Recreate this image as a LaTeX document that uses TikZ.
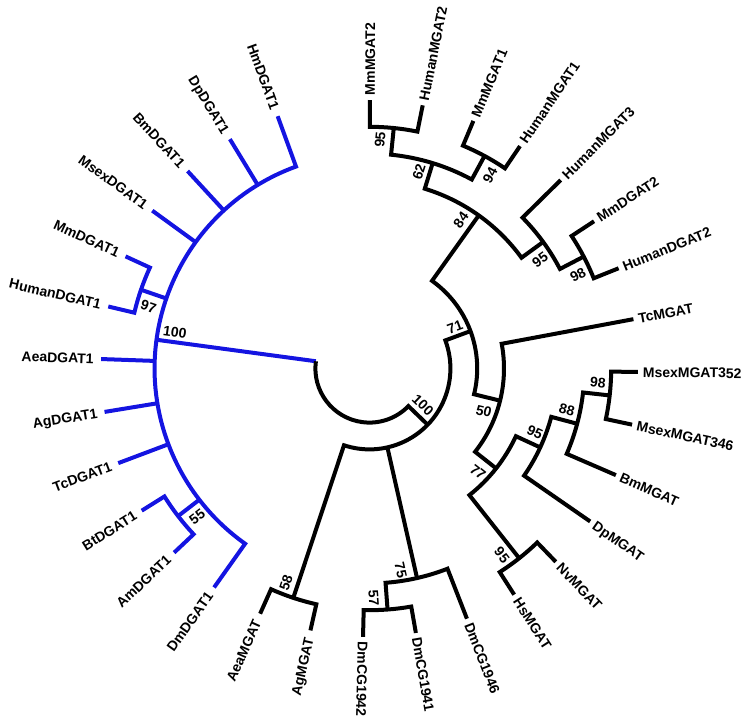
\documentclass[tikz,border=0pt]{standalone}
\usepackage{fontspec}
\setsansfont{Liberation Sans}
\usepackage{tikz}

\definecolor{dgatblue}{RGB}{20,20,225}

\begin{document}
\begin{tikzpicture}
    [
        x=1pt, y=1pt,
        branch/.style={line width=4pt},
        mgat/.style={branch, draw=black},
        dgat/.style={branch, draw=dgatblue},
        taxon/.style={font=\sffamily\bfseries\fontsize{14}{16}\selectfont, text height=10pt, text depth=0pt, outer sep=0pt},
        taxonR/.style={taxon, anchor=west, inner sep=5pt},
        taxonL/.style={taxon, anchor=east, inner sep=7.5pt},
        boot/.style={font=\sffamily\bfseries\fontsize{14}{16}\selectfont, text height=10pt, text depth=0pt, inner sep=0pt}
    ]
        \useasboundingbox (-369.5pt,-356.5pt) rectangle (380.5pt,368.5pt);
        % =========================================================================
        % NODES
        % =========================================================================
        % --- Taxa, right half ---
        \node [taxonR, rotate=89.9]   (MmMGAT2)     at (89.9:268.5pt)   {MmMGAT2};
        \node [taxonR, rotate=78.57]  (HumanMGAT2)  at (78.57:268.5pt)  {HumanMGAT2};
        \node [taxonR, rotate=67.24]  (MmMGAT1)     at (67.24:268.5pt)  {MmMGAT1};
        \node [taxonR, rotate=55.91]  (HumanMGAT1)  at (55.91:268.5pt)  {HumanMGAT1};
        \node [taxonR, rotate=44.58]  (HumanMGAT3)  at (44.58:268.5pt)  {HumanMGAT3};
        \node [taxonR, rotate=33.25]  (MmDGAT2)     at (33.25:268.5pt)  {MmDGAT2};
        \node [taxonR, rotate=21.92]  (HumanDGAT2)  at (21.92:268.5pt)  {HumanDGAT2};
        \node [taxonR, rotate=10.59]  (TcMGAT)      at (10.59:268.5pt)  {TcMGAT};
        \node [taxonR, rotate=-0.74]  (MsexMGAT352) at (-0.74:268.5pt)  {MsexMGAT352};
        \node [taxonR, rotate=-12.07] (MsexMGAT346) at (-12.07:268.5pt) {MsexMGAT346};
        \node [taxonR, rotate=-23.4]  (BmMGAT)      at (-23.4:268.5pt)  {BmMGAT};
        \node [taxonR, rotate=-34.73] (DpMGAT)      at (-34.73:268.5pt) {DpMGAT};
        \node [taxonR, rotate=-46.06] (NvMGAT)      at (-46.06:268.5pt) {NvMGAT};
        \node [taxonR, rotate=-57.39] (HsMGAT)      at (-57.39:268.5pt) {HsMGAT};
        \node [taxonR, rotate=-68.72] (DmCG1946)    at (-68.72:268.5pt) {DmCG1946};
        \node [taxonR, rotate=-80.05] (DmCG1941)    at (-80.05:268.5pt) {DmCG1941};
        \node [taxonR, rotate=-91.38] (DmCG1942)    at (-91.38:268.5pt) {DmCG1942};
        % --- Taxa, left half ---
        \node [taxonL, rotate=77.29]  (AgMGAT)      at (257.29:268.5pt) {AgMGAT};
        \node [taxonL, rotate=65.96]  (AeaMGAT)     at (245.96:268.5pt) {AeaMGAT};
        \node [taxonL, rotate=54.63]  (DmDGAT1)     at (234.63:268.5pt) {DmDGAT1};
        \node [taxonL, rotate=43.3]   (AmDGAT1)     at (223.3:268.5pt)  {AmDGAT1};
        \node [taxonL, rotate=31.97]  (BtDGAT1)     at (211.97:268.5pt) {BtDGAT1};
        \node [taxonL, rotate=20.64]  (TcDGAT1)     at (200.64:268.5pt) {TcDGAT1};
        \node [taxonL, rotate=9.31]   (AgDGAT1)     at (189.31:268.5pt) {AgDGAT1};
        \node [taxonL, rotate=-2.02]  (AeaDGAT1)    at (177.98:268.5pt) {AeaDGAT1};
        \node [taxonL, rotate=-13.35] (HumanDGAT1)  at (166.65:268.5pt) {HumanDGAT1};
        \node [taxonL, rotate=-24.68] (MmDGAT1)     at (155.32:268.5pt) {MmDGAT1};
        \node [taxonL, rotate=-36.01] (MsexDGAT1)   at (143.99:268.5pt) {MsexDGAT1};
        \node [taxonL, rotate=-47.34] (BmDGAT1)     at (132.66:268.5pt) {BmDGAT1};
        \node [taxonL, rotate=-58.67] (DpDGAT1)     at (121.33:268.5pt) {DpDGAT1};
        \node [taxonL, rotate=-70]    (HmDGAT1)     at (110:268.5pt)    {HmDGAT1};
        % --- Internal nodes ---
        \coordinate (m95a) at (84.235:241.7pt);
        \coordinate (m94)  at (61.575:241.7pt);
        \coordinate (m62)  at (72.905:214.9pt);
        \coordinate (m98)  at (27.585:241.7pt);
        \coordinate (m95b) at (36.08:214.9pt);
        \coordinate (m84)  at (54.49:188.1pt);
        \coordinate (m98m) at (-6.405:241.7pt);
        \coordinate (m88)  at (-14.9:214.9pt);
        \coordinate (m95u) at (-24.815:188.1pt);
        \coordinate (m95l) at (-51.725:241.7pt);
        \coordinate (m77)  at (-38.27:161.3pt);
        \coordinate (m50)  at (-13.84:134.5pt);
        \coordinate (m71)  at (20.325:107.7pt);
        \coordinate (m57)  at (-85.715:241.7pt);
        \coordinate (m75)  at (-77.22:214.9pt);
        \coordinate (m58)  at (251.625:241.7pt);
        \coordinate (m100) at (-44.025:80.9pt);
        \coordinate (b97)  at (160.985:241.7pt);
        \coordinate (b55)  at (217.635:241.7pt);
        \coordinate (b100) at (172.315:214.9pt);
        % --- Bootstrap values ---
        \node [boot, rotate=84.2]  (s-m95a) at (87.4:229.2pt)  {95};
        \node [boot, rotate=61.6]  (s-m94)  at (58.1:228pt)    {94};
        \node [boot, rotate=72.9]  (s-m62)  at (75.9:202.6pt)  {62};
        \node [boot, rotate=27.6]  (s-m98)  at (24.2:228.5pt)  {98};
        \node [boot, rotate=36.1]  (s-m95b) at (32.5:202.1pt)  {95};
        \node [boot, rotate=54.5]  (s-m84)  at (58.4:174.4pt)  {84};
        \node [boot, rotate=-6.4]  (s-m98m) at (-3.4:228.9pt)  {98};
        \node [boot, rotate=-14.9] (s-m88)  at (-11.9:201.8pt) {88};
        \node [boot, rotate=-24.8] (s-m95u) at (-21:177.3pt)   {95};
        \node [boot, rotate=-51.7] (s-m95l) at (-54.6:228.8pt) {95};
        \node [boot, rotate=-38.3] (s-m77)  at (-43.65:150pt)  {77};
        \node [boot, rotate=-13.8] (s-m50)  at (-20.4:122pt)   {50};
        \node [boot, rotate=20.3]  (s-m71)  at (25.9:95pt)     {71};
        \node [boot, rotate=-85.7] (s-m57)  at (-88.9:229.5pt) {57};
        \node [boot, rotate=-77.2] (s-m75)  at (-81.1:204pt)   {75};
        \node [boot, rotate=71.6]  (s-m58)  at (248.7:230.2pt) {58};
        \node [boot, rotate=-44]   (s-m100) at (-34.3:64.8pt)  {100};
        \node [boot, rotate=-19]   (s-b97)  at (164.3:229.5pt) {97};
        \node [boot, rotate=37.6]  (s-b55)  at (220.7:227.6pt) {55};
        \node [boot, rotate=-7.7]  (s-b100) at (169.4:197.9pt) {100};

        % =========================================================================
        % PATHS
        % =========================================================================
        % --- DGAT1 clade (blue) ---
        \draw [dgat] (MmDGAT1.east) -- (155.32:241.7pt) arc[start angle=155.32, end angle=166.65, radius=241.7pt] -- (HumanDGAT1.east);
        \draw [dgat] (AmDGAT1.east) -- (223.3:241.7pt) arc[start angle=223.3, end angle=211.97, radius=241.7pt] -- (BtDGAT1.east);
        \draw [dgat] (HmDGAT1.east) -- (110:214.9pt) arc[start angle=110, end angle=234.63, radius=214.9pt] -- (DmDGAT1.east);
        \draw [dgat] (121.33:214.9pt) -- (DpDGAT1.east);
        \draw [dgat] (132.66:214.9pt) -- (BmDGAT1.east);
        \draw [dgat] (143.99:214.9pt) -- (MsexDGAT1.east);
        \draw [dgat] (160.985:214.9pt) -- (b97);
        \draw [dgat] (177.98:214.9pt) -- (AeaDGAT1.east);
        \draw [dgat] (189.31:214.9pt) -- (AgDGAT1.east);
        \draw [dgat] (200.64:214.9pt) -- (TcDGAT1.east);
        \draw [dgat] (217.635:214.9pt) -- (b55);
        \draw [dgat] (b100) -- (172.315:54.1pt);
        % --- MGAT / DGAT2 clade ---
        \draw [mgat] (MmMGAT2.west) -- (89.9:241.7pt) arc[start angle=89.9, end angle=78.57, radius=241.7pt] -- (HumanMGAT2.west);
        \draw [mgat] (MmMGAT1.west) -- (67.24:241.7pt) arc[start angle=67.24, end angle=55.91, radius=241.7pt] -- (HumanMGAT1.west);
        \draw [mgat] (m95a) -- (84.235:214.9pt) arc[start angle=84.235, end angle=61.575, radius=214.9pt] -- (m94);
        \draw [mgat] (MmDGAT2.west) -- (33.25:241.7pt) arc[start angle=33.25, end angle=21.92, radius=241.7pt] -- (HumanDGAT2.west);
        \draw [mgat] (HumanMGAT3.west) -- (44.58:214.9pt) arc[start angle=44.58, end angle=27.585, radius=214.9pt] -- (m98);
        \draw [mgat] (m62) -- (72.905:188.1pt) arc[start angle=72.905, end angle=36.08, radius=188.1pt] -- (m95b);
        \draw [mgat] (MsexMGAT352.west) -- (-0.74:241.7pt) arc[start angle=-0.74, end angle=-12.07, radius=241.7pt] -- (MsexMGAT346.west);
        \draw [mgat] (m98m) -- (-6.405:214.9pt) arc[start angle=-6.405, end angle=-23.4, radius=214.9pt] -- (BmMGAT.west);
        \draw [mgat] (m88) -- (-14.9:188.1pt) arc[start angle=-14.9, end angle=-34.73, radius=188.1pt] -- (DpMGAT.west);
        \draw [mgat] (NvMGAT.west) -- (-46.06:241.7pt) arc[start angle=-46.06, end angle=-57.39, radius=241.7pt] -- (HsMGAT.west);
        \draw [mgat] (m95u) -- (-24.815:161.3pt) arc[start angle=-24.815, end angle=-51.725, radius=161.3pt] -- (m95l);
        \draw [mgat] (TcMGAT.west) -- (10.59:134.5pt) arc[start angle=10.59, end angle=-38.27, radius=134.5pt] -- (m77);
        \draw [mgat] (m84) -- (54.49:107.7pt) arc[start angle=54.49, end angle=-13.84, radius=107.7pt] -- (m50);
        \draw [mgat] (DmCG1941.west) -- (-80.05:241.7pt) arc[start angle=-80.05, end angle=-91.38, radius=241.7pt] -- (DmCG1942.west);
        \draw [mgat] (DmCG1946.west) -- (-68.72:214.9pt) arc[start angle=-68.72, end angle=-85.715, radius=214.9pt] -- (m57);
        \draw [mgat] (AgMGAT.east) -- (257.29:241.7pt) arc[start angle=257.29, end angle=245.96, radius=241.7pt] -- (AeaMGAT.east);
        \draw [mgat] (m71) -- (20.325:80.9pt) arc[start angle=20.325, end angle=-108.375, radius=80.9pt] -- (m58);
        \draw [mgat] (m75) -- (-77.22:80.9pt);
        % --- Root ---
        \draw [mgat] (172.315:54.1pt) arc[start angle=172.315, end angle=315.975, radius=54.1pt] -- (m100);
\end{tikzpicture}
\end{document}
